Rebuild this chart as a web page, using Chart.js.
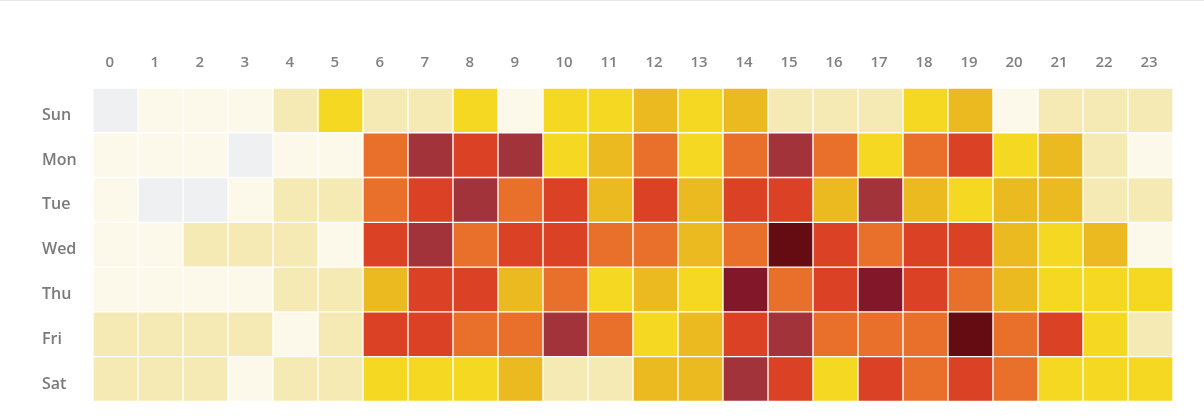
<!DOCTYPE html>
<html>
<head>
<meta charset="utf-8">
<script src="https://cdn.jsdelivr.net/npm/chart.js@4/dist/chart.umd.min.js"></script>
<style>
  html, body { margin: 0; padding: 0; background: #fff; }
  #wrap { width: 1204px; height: 419px; position: relative; box-sizing: border-box; border-top: 1px solid #e8e8e8; }
</style>
</head>
<body>
<div id="wrap"><canvas id="heat"></canvas></div>
<script>
// horas y dias
const hours = ['0','1','2','3','4','5','6','7','8','9','10','11','12','13','14','15','16','17','18','19','20','21','22','23'];
const days = ['Sun', 'Mon', 'Tue', 'Wed', 'Thu', 'Fri', 'Sat'];

// nivel de actividad por celda (0 = sin datos, 9 = maximo)
const sun = [0,1,1,1,2,3,2,2,3,1,3,3,4,3,4,2,2,2,3,4,1,2,2,2];
const mon = [1,1,1,0,1,1,5,7,6,7,3,4,5,3,5,7,5,3,5,6,3,4,2,1];
const tue = [1,0,0,1,2,2,5,6,7,5,6,4,6,4,6,6,4,7,4,3,4,4,2,2];
const wed = [1,1,2,2,2,1,6,7,5,6,6,5,5,4,5,9,6,5,6,6,4,3,4,1];
const thu = [1,1,1,1,2,2,4,6,6,4,5,3,4,3,8,5,6,8,6,5,4,3,3,3];
const fri = [2,2,2,2,1,2,6,6,5,5,7,5,3,4,6,7,5,5,5,9,5,6,3,2];
const sat = [2,2,2,1,2,2,3,3,3,4,2,2,4,4,7,6,3,6,5,6,5,3,3,3];

const palette = ['#eef0f2', '#fdf9ea', '#f5eab3', '#f5d821', '#ebb920', '#e8702a', '#db4125', '#a3333a', '#83172a', '#640c12'];

const rows = [sun, mon, tue, wed, thu, fri, sat];

const datasets = rows.map((r, i) => ({
    label: days[i],
    data: r.map(() => 1),
    backgroundColor: r.map(v => palette[v]),
    borderColor: '#ffffff',
    borderWidth: 1,
    borderSkipped: false,
    barPercentage: 1,
    categoryPercentage: 1
}));

const ctx = document.getElementById('heat').getContext('2d');
new Chart(ctx, {
    type: 'bar',
    data: { labels: hours, datasets: datasets },
    options: {
        responsive: true,
        maintainAspectRatio: false,
        animation: false,
        layout: { padding: { left: 42, right: 31, top: 0, bottom: 17 } },
        plugins: { legend: { display: false }, tooltip: { enabled: false } },
        scales: {
            x: {
                position: 'top',
                stacked: true,
                grid: { display: false, drawTicks: false },
                border: { display: false },
                ticks: {
                    color: '#808080',
                    font: { family: 'Open Sans', size: 15, weight: '600' },
                    padding: 16,
                    maxRotation: 0,
                    align: 'start',
                    labelOffset: -10
                },
                afterFit: function (scale) { scale.height = 87; }
            },
            y: {
                stacked: true,
                reverse: true,
                min: 0,
                max: 7,
                grid: { display: false, drawTicks: false },
                border: { display: false },
                afterBuildTicks: function (scale) {
                    scale.ticks = days.map((d, i) => ({ value: i + 0.5 }));
                },
                ticks: {
                    color: '#7a7a7a',
                    font: { family: 'Open Sans', size: 16, weight: '600' },
                    crossAlign: 'far',
                    padding: 8,
                    labelOffset: 5,
                    callback: function (v, i) { return days[i]; }
                },
                afterFit: function (scale) { scale.width = 51; }
            }
        }
    }
});
</script>
</body>
</html>
